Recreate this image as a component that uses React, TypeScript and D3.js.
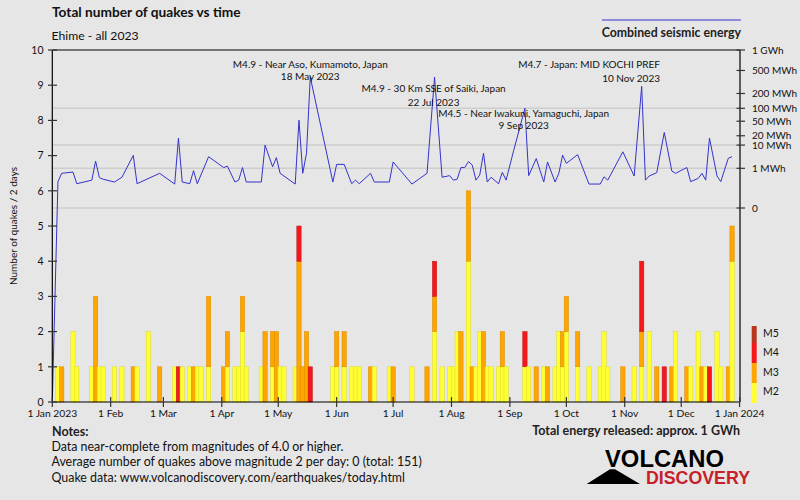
import React from "react";
import * as d3 from "d3";

// ---------- data ----------
// bins are 2 days wide; value = day offset (from 1 Jan 2023) of bin centre
const barDays = [3,5,11,13,21,23,25,27,33,37,43,45,51,57,65,67,69,73,75,77,79,83,91,93,97,99,101,103,111,113,117,119,121,123,129,131,133,135,137,149,151,155,159,161,163,169,171,179,181,191,199,203,207,211,213,215,217,221,223,225,227,229,231,233,237,239,241,251,253,257,261,263,267,269,271,273,279,285,291,293,295,303,309,313,317,321,325,329,331,337,339,343,345,347,349,353,355,359,361];
const countM2 = [1,0,2,1,1,0,1,1,1,1,0,1,2,0,1,0,1,1,0,1,1,1,0,1,1,1,2,1,1,0,1,0,1,1,1,0,0,0,0,1,1,1,1,1,1,0,1,1,0,1,0,2,1,1,1,2,0,4,0,1,2,0,1,1,1,1,1,1,1,0,1,0,1,2,1,2,1,1,1,2,1,0,1,1,2,0,0,0,2,0,1,2,0,1,0,2,1,0,4];
const countM3 = [0,1,0,0,0,3,0,0,0,0,1,0,0,1,0,0,0,0,1,0,0,2,1,1,0,0,1,0,0,2,1,2,0,0,0,4,1,2,0,0,1,1,0,0,0,1,0,0,1,0,1,1,0,0,0,0,2,2,1,0,0,2,0,0,0,1,0,0,0,1,0,1,0,0,1,1,1,0,0,0,0,1,0,1,0,1,0,1,0,1,0,0,1,0,0,0,0,1,1];
const countM4 = [0,0,0,0,0,0,0,0,0,0,0,0,0,0,0,1,0,0,0,0,0,0,0,0,0,0,0,0,0,0,0,0,0,0,0,1,0,0,1,0,0,0,0,0,0,0,0,0,0,0,0,1,0,0,0,0,0,0,0,0,0,0,0,0,0,0,0,1,0,0,0,0,0,0,0,0,0,0,0,0,0,0,0,2,0,0,1,0,0,0,0,0,0,0,1,0,0,0,0];

// combined seismic energy per bin (MWh)
const energyDays = [3,5,11,13,21,23,25,27,33,37,43,45,57,65,67,69,73,75,77,83,91,93,97,99,101,103,111,113,117,119,121,129,131,133,135,137,149,151,155,159,161,163,169,171,179,181,191,199,203,207,211,213,215,217,219,221,223,225,227,229,231,233,237,239,241,245,251,253,257,261,263,267,269,271,273,279,285,291,293,295,303,309,313,315,317,321,325,329,331,337,339,343,345,347,349,353,355,359,361];
const energyMWh = [0.13,0.51,0.61,0.086,0.17,2.3,0.26,0.2,0.12,0.28,4.1,0.086,0.51,0.08,17,0.12,0.086,0.73,0.086,3.6,1.1,1.3,0.12,0.17,1.1,0.12,0.12,10,1.2,3.3,0.51,0.08,53,0.51,5,390,0.12,1.6,1.6,0.086,0.17,0.086,0.51,0.12,0.12,2.1,0.08,0.51,390,0.28,0.36,0.17,0.2,1.1,1.1,2.2,1.5,0.17,0.4,5,0.12,0.28,0.086,0.59,0.17,6.3,100,0.36,3,0.12,2.1,0.12,0.51,4.2,1.8,4.4,0.08,0.08,0.3,0.17,5.7,0.34,270,0.17,0.34,0.56,25,0.7,0.51,1.1,0.13,0.23,0.51,0.17,17,0.34,0.13,3.1,3.6];

const countTicks = [0,1,2,3,4,5,6,7,8,9,10];
const energyTicks = [1000,500,200,100,50,20,10,1,0];
const energyTickLabels = ["1 GWh","500 MWh","200 MWh","100 MWh","50 MWh","20 MWh","10 MWh","1 MWh","0"];
const energyGrid = [100,10,1,0];
const monthLabels = ["1 Jan 2023","1 Feb","1 Mar","1 Apr","1 May","1 Jun","1 Jul","1 Aug","1 Sep","1 Oct","1 Nov","1 Dec","1 Jan 2024"];

const quakeTitles = ["M4.9 - Near Aso, Kumamoto, Japan","M4.9 - 30 Km SSE of Saiki, Japan","M4.5 - Near Iwakuni, Yamaguchi, Japan","M4.7 - Japan: MID KOCHI PREF"];
const quakeDates = ["18 May 2023","22 Jul 2023","9 Sep 2023","10 Nov 2023"];

const legendLabels = ["M5","M4","M3","M2"];
const legendColors = ["#b8371c","#f5181b","#ffa500","#ffff33"];

const notes = [
  "Data near-complete from magnitudes of 4.0 or higher.",
  "Average number of quakes above magnitude 2 per day: 0 (total: 151)",
  "Quake data: www.volcanodiscovery.com/earthquakes/today.html",
];

// ---------- layout ----------
const W = 800, H = 500;
const L = 52.3, R = 740, T = 50, B = 402;
const FONT = "Lato, 'Open Sans', sans-serif";
const BG = "#e6e6e6";
const C_M2 = "#ffff33", C_M3 = "#ffa500", C_M4 = "#f5181b";
const LINE = "#3333cc";

const START = Date.UTC(2023, 0, 1);
const dayToDate = (d: number) => new Date(START + d * 86400000);

export default function App() {
  const x = d3.scaleUtc().domain([new Date(START), new Date(Date.UTC(2024, 0, 1))]).range([L, 739.6]);
  const y = d3.scaleLinear().domain([0, 10]).range([B, T]);
  const yE = d3.scalePow().exponent(0.2).domain([0, 1000]).range([208, T]);
  const months = d3.utcMonth.range(new Date(START), new Date(Date.UTC(2024, 0, 2)));

  const halfW = 1.15;
  const bars: any[] = [];
  barDays.forEach((d, i) => {
    const x0 = x(dayToDate(d - halfW));
    const x1 = x(dayToDate(d + halfW));
    const segs = [
      [0, countM2[i], C_M2, "#d9d92a"],
      [countM2[i], countM2[i] + countM3[i], C_M3, "#d98c00"],
      [countM2[i] + countM3[i], countM2[i] + countM3[i] + countM4[i], C_M4, "#c01414"],
    ];
    segs.forEach((s: any, j) => {
      if (s[1] > s[0]) {
        bars.push(
          <rect key={i + "-" + j} x={x0} width={x1 - x0} y={y(s[1])} height={y(s[0]) - y(s[1])}
            fill={s[2]} stroke={s[3]} strokeWidth={0.5} />
        );
      }
    });
  });

  const pts: [number, number][] = [[x(dayToDate(0)), y(0)]];
  energyDays.forEach((d, i) => pts.push([x(dayToDate(d)), yE(energyMWh[i])]));
  const linePath = d3.line()(pts) || "";

  const peakDays = [137, 202.5, 250.3, 0];
  const annot = [
    { x: x(dayToDate(peakDays[0])), y1: 68, y2: 80, anchor: "middle" },
    { x: x(dayToDate(peakDays[1])), y1: 92, y2: 105.5, anchor: "middle" },
    { x: x(dayToDate(peakDays[2])), y1: 116.5, y2: 128.5, anchor: "middle" },
    { x: 660, y1: 67.5, y2: 82, anchor: "end" },
  ];

  const legendTops = [326, 343, 363, 383, 403];
  const legendBase = [337.3, 355.7, 375.7, 395];

  return (
    <svg width={W} height={H} style={{ position: "absolute", left: 0, top: 0, background: BG }} fontFamily={FONT}>
      <rect x={0} y={0} width={W} height={H} fill={BG} />
      {/* energy grid */}
      {energyGrid.map((v) => (
        <line key={"g" + v} x1={L} x2={R} y1={yE(v)} y2={yE(v)} stroke="#cdcdcd" strokeWidth={1.5} />
      ))}
      {/* bars */}
      {bars}
      {/* energy line */}
      <path d={linePath} fill="none" stroke={LINE} strokeWidth={1} />
      {/* frame */}
      <line x1={L} x2={R} y1={T} y2={T} stroke="#000" strokeWidth={1.2} />
      <line x1={L} x2={R} y1={B} y2={B} stroke="#000" strokeWidth={1.2} />
      <line x1={L} x2={L} y1={T} y2={B} stroke="#000" strokeWidth={1.2} />
      <line x1={R} x2={R} y1={T} y2={B} stroke="#000" strokeWidth={1.2} />
      {/* left axis */}
      {countTicks.map((v) => (
        <g key={"ly" + v}>
          <line x1={48} x2={57} y1={y(v)} y2={y(v)} stroke="#333" strokeWidth={1.2} />
          <text x={43.5} y={y(v) + 3.7} textAnchor="end" fontSize={10.5} fill="#111">{v}</text>
        </g>
      ))}
      <text transform={`translate(17,${(T + B) / 2}) rotate(-90)`} textAnchor="middle" fontSize={10} fill="#111">Number of quakes / 2 days</text>
      {/* right axis */}
      {energyTicks.map((v, i) => (
        <g key={"ry" + v}>
          <line x1={736.5} x2={745} y1={yE(v)} y2={yE(v)} stroke="#333" strokeWidth={1.2} />
          <text x={752} y={yE(v) + 3.5} fontSize={10} fill="#111">{energyTickLabels[i]}</text>
        </g>
      ))}
      {/* x axis */}
      {months.map((m, i) => (
        <g key={"mx" + i}>
          <line x1={x(m)} x2={x(m)} y1={397} y2={407} stroke="#333" strokeWidth={1.2} />
          <text x={x(m)} y={417.3} textAnchor="middle" fontSize={10.3} fill="#111">{monthLabels[i]}</text>
        </g>
      ))}
      {/* annotations */}
      {annot.map((a, i) => (
        <g key={"an" + i} fontSize={10} fill="#111" textAnchor={a.anchor as any}>
          <text x={a.x} y={a.y1}>{quakeTitles[i]}</text>
          <text x={a.x} y={a.y2}>{quakeDates[i]}</text>
        </g>
      ))}
      {/* titles */}
      <text x={52} y={17} fontSize={13.7} fontWeight="bold" fill="#111">Total number of quakes vs time</text>
      <text x={51.5} y={40} fontSize={12.2} fill="#111">Ehime - all 2023</text>
      <line x1={602} x2={741} y1={20} y2={20} stroke={LINE} strokeWidth={1} />
      <text x={741} y={37.3} textAnchor="end" fontSize={12.3} fontWeight="bold" fill="#222">Combined seismic energy</text>
      {/* legend */}
      {legendLabels.map((lab, i) => (
        <g key={"lg" + lab}>
          <rect x={751.7} width={5} y={legendTops[i]} height={legendTops[i + 1] - legendTops[i]} fill={legendColors[i]} />
          <text x={763} y={legendBase[i]} fontSize={10.5} fill="#111">{lab}</text>
        </g>
      ))}
      {/* notes */}
      <text x={52} y={436} fontSize={12.5} fontWeight="bold" fill="#222">Notes:</text>
      {notes.map((n, i) => (
        <text key={"n" + i} x={51.5} y={450.7 + i * 15.6} fontSize={12.4} fill="#111">{n}</text>
      ))}
      <text x={740} y={435} textAnchor="end" fontSize={12.5} fontWeight="bold" fill="#222">Total energy released: approx. 1 GWh</text>
      {/* logo */}
      <text x={605} y={466.5} fontFamily="'Liberation Sans', Arial, sans-serif" fontWeight="bold" fontSize={23.5} fill="#000" textLength={119} lengthAdjust="spacingAndGlyphs">VOLCANO</text>
      <polygon points="586.7,484 610,469.3 615,469.3 640,484" fill="#000" />
      <text x={646} y={484} fontFamily="'Liberation Sans', Arial, sans-serif" fontWeight="bold" fontSize={19} fill="#c8202a" textLength={104} lengthAdjust="spacingAndGlyphs">DISCOVERY</text>
    </svg>
  );
}
